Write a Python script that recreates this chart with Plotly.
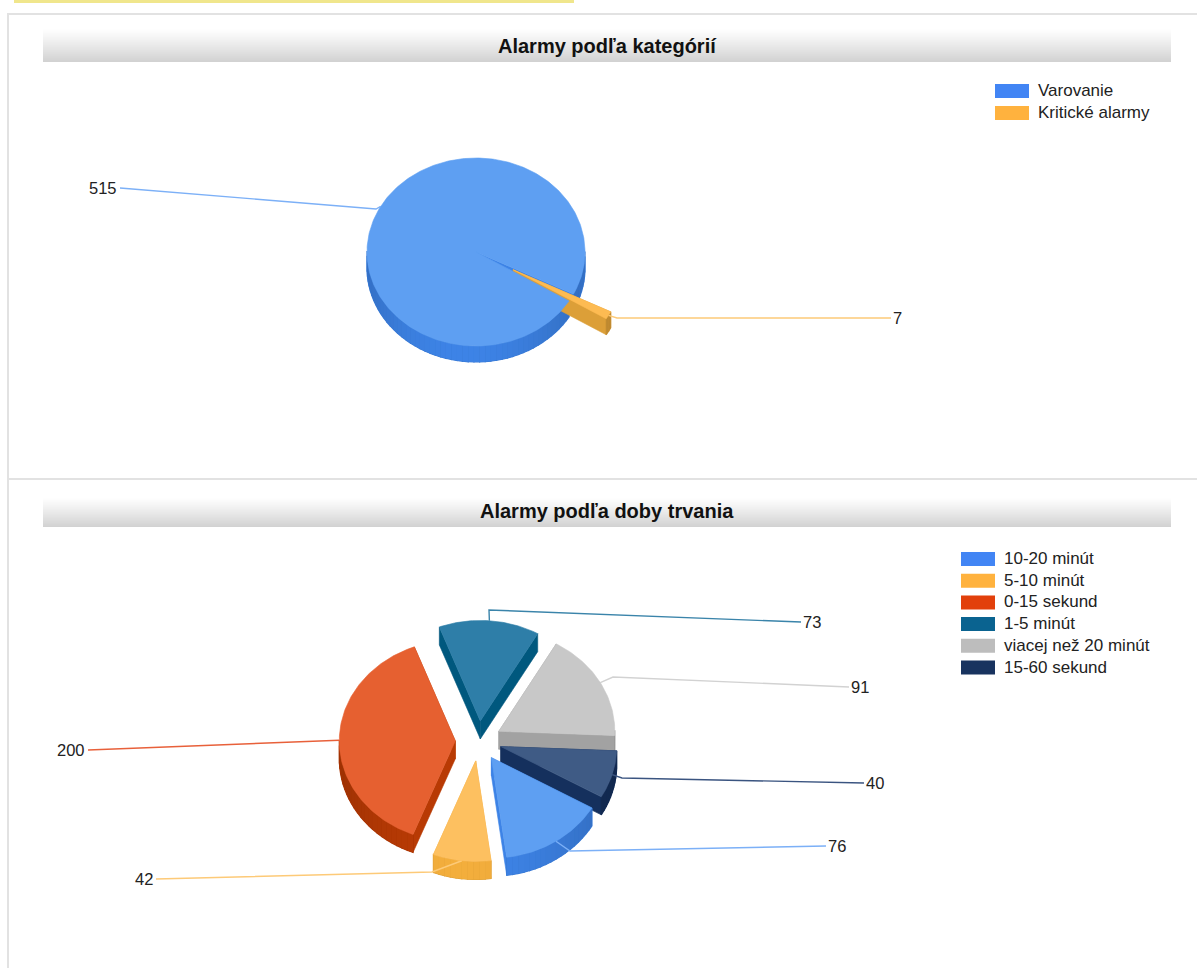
import math
import plotly.graph_objects as go

# ---------- data ----------
cat_title = "Alarmy podľa kategórií"
cat_labels = ["Varovanie", "Kritické alarmy"]
cat_values = [515, 7]
dur_title = "Alarmy podľa doby trvania"
dur_labels = ["10-20 minút", "5-10 minút", "0-15 sekund", "1-5 minút", "viacej než 20 minút", "15-60 sekund"]
dur_values = [76, 42, 200, 73, 91, 40]

# ---------- styles ----------
cat_legend = ["#4285f4", "#ffb23e"]
cat_top = ["#5e9ff2", "#fdbb52"]
cat_side = ["#3d83e6", "#dc9f38"]
dur_legend = ["#4285f4", "#ffb23e", "#e2400b", "#0a6390", "#bdbdbd", "#18335f"]
dur_top = ["#5e9ff2", "#fdc060", "#e66030", "#2e7ea8", "#c8c8c8", "#3f5b85"]
dur_side = ["#3d83e6", "#f3ae3c", "#b83a04", "#00587e", "#a2a2a2", "#15305d"]
GRID = "#e2e2e2"
TEXT = "#222222"
FONT = "Liberation Sans"


def hexrgb(c):
    return [int(c[i:i + 2], 16) for i in (1, 3, 5)]


def shade(c, f):
    return "rgb(%d,%d,%d)" % tuple(min(255, round(v * f)) for v in hexrgb(c))


fig = go.Figure()


def poly(xs, ys, color, lw=0.6):
    fig.add_trace(go.Scatter(x=xs, y=ys, mode="lines", fill="toself", fillcolor=color,
                             line=dict(color=color, width=lw), hoverinfo="skip", showlegend=False))


def draw_pie(values, tops, sides, cx, cy, rx, ry, depth, start, pulls, label_paths, line_colors, labels_anchor):
    total = sum(values)
    slices = []
    a = start
    for i, v in enumerate(values):
        span = v / total * 360
        slices.append((i, a, a + span))
        a += span

    def pt(ax, ay, ang):
        t = math.radians(ang)
        return ax + rx * math.sin(t), ay - ry * math.cos(t)

    info = []
    for i, a0, a1 in slices:
        mid = (a0 + a1) / 2
        t = math.radians(mid)
        ax = cx + pulls[i] * rx * math.sin(t)
        ay = cy - pulls[i] * ry * math.cos(t)
        info.append((i, a0, a1, mid, ax, ay))
    # back to front
    info.sort(key=lambda s: -math.cos(math.radians(s[3])))

    # walls
    for i, a0, a1, mid, ax, ay in info:
        for e in (a0, a1):
            x, y = pt(ax, ay, e)
            poly([ax, x, x, ax, ax], [ay, y, y + depth, ay + depth, ay], sides[i])
        n = max(1, math.ceil((a1 - a0) / 3))
        strips = []
        for k in range(n):
            b0 = a0 + (a1 - a0) * k / n
            b1 = a0 + (a1 - a0) * (k + 1) / n
            m = (b0 + b1) / 2
            if math.cos(math.radians(m)) < 0.02:
                strips.append((b0, b1, m))
        # solid underlay, so strip seams cannot show
        for b0, b1, m in strips:
            x0, y0 = pt(ax, ay, b0)
            x1, y1 = pt(ax, ay, b1)
            poly([x0, x1, x1, x0, x0], [y0, y1, y1 + depth, y0 + depth, y0], shade(sides[i], 0.92), 1.2)
        for b0, b1, m in strips:
            x0, y0 = pt(ax, ay, b0)
            x1, y1 = pt(ax, ay, b1)
            f = 0.84 + 0.16 * max(0, -math.cos(math.radians(m - 8))) ** 2
            poly([x0, x1, x1, x0, x0], [y0, y1, y1 + depth, y0 + depth, y0], shade(sides[i], f), 0)

    # leader lines and value labels (under the top faces)
    for i, a0, a1, mid, ax, ay in info:
        sx, sy = pt(ax, ay, mid)
        path = label_paths[i]
        fig.add_trace(go.Scatter(x=[sx] + [p[0] for p in path], y=[sy] + [p[1] for p in path],
                                 mode="lines", line=dict(color=line_colors[i], width=1.4),
                                 hoverinfo="skip", showlegend=False))
        ex, ey = path[-1]
        anchor = labels_anchor[i]
        fig.add_annotation(x=ex + (1 if anchor == "left" else -2), y=ey - 0.5, text=str(values[i]), showarrow=False,
                           xanchor=anchor, yanchor="middle", borderpad=0,
                           font=dict(family=FONT, size=16.5, color=TEXT))

    # top faces
    for i, a0, a1, mid, ax, ay in info:
        n = max(2, math.ceil((a1 - a0)))
        xs, ys = [ax], [ay]
        for k in range(n + 1):
            x, y = pt(ax, ay, a0 + (a1 - a0) * k / n)
            xs.append(x)
            ys.append(y)
        xs.append(ax)
        ys.append(ay)
        poly(xs, ys, tops[i])


draw_pie(cat_values, cat_top, cat_side, 476, 252, 109, 94, 16, 121.4, [0, 0.39],
         [[(376, 209), (120, 188)], [(617, 318), (891, 318)]],
         ["#7cb0f7", "#fdca78"], ["right", "left"])

draw_pie(dur_values, dur_top, dur_side, 478.5, 741, 116, 100.5, 18, 120, [0.2] * 6,
         [[(570, 851), (826, 846)],
          [(432, 872), (156, 879)],
          [(88, 750)],
          [(489, 610), (801, 622)],
          [(613, 677), (849, 687)],
          [(622, 778), (864, 783)]],
         ["#7cb0f7", "#fdca78", "#e8603a", "#3a84aa", "#d2d2d2", "#3a5480"],
         ["left", "right", "right", "left", "left", "left"])

shapes = []


def rect(x0, y0, x1, y1, color):
    shapes.append(dict(type="rect", xref="x", yref="y", x0=x0, x1=x1, y0=y0, y1=y1,
                       fillcolor=color, line=dict(width=0), layer="below"))


# page furniture
rect(14, 0, 574, 3, "#f0e68c")
rect(7, 14, 9, 968, GRID)
rect(7, 13, 1197, 15, GRID)
rect(8, 478, 1197, 480, GRID)


def title_bar(y0, y1, text):
    h = y1 - y0
    for k in range(h):
        v = round(255 - (255 - 210) * (k / (h - 1)) ** 1.1)
        rect(43, y0 + k, 1171, y0 + k + 1, "rgb(%d,%d,%d)" % (v, v, v))
    fig.add_annotation(x=607, y=y1 - 16, text="<b>%s</b>" % text, showarrow=False, xanchor="center",
                       yanchor="middle", borderpad=0, font=dict(family=FONT, size=20, color="#111111"))


title_bar(28, 62, cat_title)
title_bar(497, 527, dur_title)


def legend(x, y, labels, colors, step):
    for i, (lab, col) in enumerate(zip(labels, colors)):
        yy = y + i * step
        rect(x, yy - 7, x + 34, yy + 7, col)
        fig.add_annotation(x=x + 41.5, y=yy - 0.5, text=lab, showarrow=False, xanchor="left", yanchor="middle",
                           borderpad=0, font=dict(family=FONT, size=17, color=TEXT))


legend(995, 91, cat_labels, cat_legend, 22)
legend(961, 559, dur_labels, dur_legend, 21.7)

fig.update_layout(
    width=1197, height=968, margin=dict(l=0, r=0, t=0, b=0, pad=0),
    paper_bgcolor="white", plot_bgcolor="white", showlegend=False, shapes=shapes,
    xaxis=dict(range=[0, 1197], visible=False, fixedrange=True),
    yaxis=dict(range=[968, 0], visible=False, fixedrange=True),
)
fig.write_html("out.html", config=dict(displayModeBar=False),
               post_script="document.body.style.margin='0';")
